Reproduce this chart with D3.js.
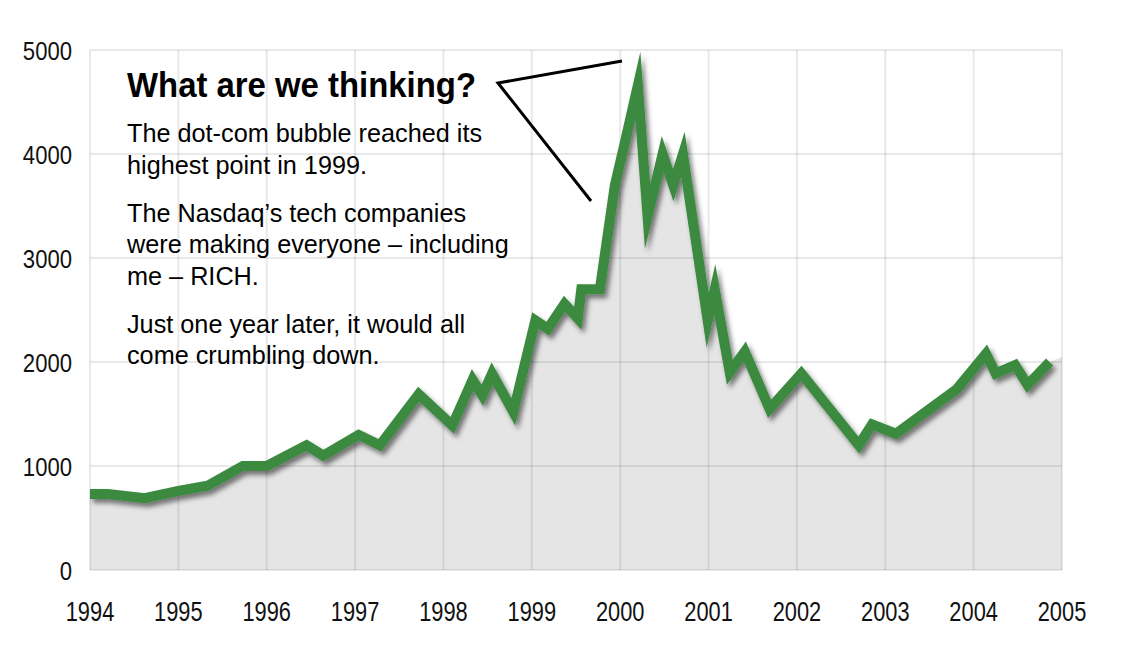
<!DOCTYPE html>
<html><head><meta charset="utf-8">
<script src="https://cdn.jsdelivr.net/npm/d3@7"></script>
<style>
html,body{margin:0;padding:0;background:#fff;}
svg text{font-family:"Liberation Sans",Arial,"Roboto",sans-serif;}
</style></head>
<body>
<svg id="chart" width="1122" height="658"></svg>
<script>
// ---- data ----
const years = [1994.0,1994.2,1994.62,1995.0,1995.33,1995.73,1996.0,1996.45,1996.64,1997.04,1997.28,1997.72,1998.1,1998.33,1998.44,1998.55,1998.79,1999.04,1999.18,1999.37,1999.52,1999.56,1999.77,1999.94,2000.05,2000.2,2000.31,2000.48,2000.6,2000.71,2000.99,2001.07,2001.24,2001.41,2001.69,2002.05,2002.7,2002.85,2003.12,2003.81,2004.14,2004.25,2004.47,2004.61,2004.86];
const values = [730,730,690,760,810,1000,1000,1200,1100,1300,1200,1690,1390,1830,1680,1890,1520,2400,2320,2560,2420,2700,2700,3700,4100,4660,3400,4000,3700,4000,2400,2700,1900,2100,1550,1890,1200,1400,1310,1740,2080,1890,1970,1780,2000];
const areaEndYear = 2005;
const areaEndValue = 2050;
const xTicks = [1994,1995,1996,1997,1998,1999,2000,2001,2002,2003,2004,2005];
const yTicks = [0,1000,2000,3000,4000,5000];
const titleText = "What are we thinking?";
const bodyLines = [
  ["The dot-com bubble reached its","highest point in 1999."],
  ["The Nasdaq\u2019s tech companies","were making everyone \u2013 including","me \u2013 RICH."],
  ["Just one year later, it would all","come crumbling down."]
];

// ---- layout ----
const L=90,R=1062,T=50,B=570;
const svg=d3.select("#chart");
const x=d3.scaleLinear().domain([1994,2005]).range([L,R]);
const y=d3.scaleLinear().domain([0,5000]).range([B,T]);

function ctext(parent, px, py, str, size, sx, opts={}){
  const g=parent.append("g").attr("transform",`translate(${px},${py}) scale(${sx},1)`);
  return g.append("text").attr("x",0).attr("y",0).attr("font-size",size)
    .attr("font-weight",opts.weight||"normal").attr("text-anchor",opts.anchor||"start")
    .attr("fill",opts.fill||"#000").text(str);
}

const defs=svg.append("defs");
const f=defs.append("filter").attr("id","shadow").attr("x","-10%").attr("y","-10%").attr("width","120%").attr("height","130%");
f.append("feDropShadow").attr("dx",3).attr("dy",4).attr("stdDeviation",2.5).attr("flood-color","#000").attr("flood-opacity",0.5);

const pts=years.map((d,i)=>({x:d,v:values[i]}));
const areaPts=pts.concat([{x:areaEndYear,v:areaEndValue}]);

// area fill
svg.append("path").datum(areaPts)
  .attr("d",d3.area().x(d=>x(d.x)).y0(y(0)).y1(d=>y(d.v)))
  .attr("fill","#e5e5e5");

// grid
const g=svg.append("g");
g.selectAll("line.v").data(xTicks).join("line")
  .attr("x1",d=>x(d)).attr("x2",d=>x(d)).attr("y1",T).attr("y2",B)
  .attr("stroke","rgba(0,0,0,0.085)").attr("stroke-width",2);
g.selectAll("line.h").data(yTicks).join("line")
  .attr("x1",L).attr("x2",R).attr("y1",d=>y(d)).attr("y2",d=>y(d))
  .attr("stroke","rgba(0,0,0,0.085)").attr("stroke-width",2);

// axis labels
const fmt=d3.format("d");
const ya=svg.append("g");
yTicks.forEach(v=>ctext(ya,72,y(v)+10,fmt(v),26,0.85,{anchor:"end",fill:"#111"}));
const xa=svg.append("g");
xTicks.forEach(v=>ctext(xa,x(v),621,fmt(v),28,0.78,{anchor:"middle",fill:"#111"}));

// line
svg.append("path").datum(pts)
  .attr("d",d3.line().x(d=>x(d.x)).y(d=>y(d.v)))
  .attr("fill","none").attr("stroke","#3a8a3f").attr("stroke-width",10)
  .attr("stroke-linejoin","miter").attr("stroke-miterlimit",10)
  .attr("filter","url(#shadow)");

// annotation
const tx=127;
ctext(svg,tx,97,titleText,35,0.94,{weight:"bold"});
const lh=31.5; let yy=142;
bodyLines.forEach(grp=>{
  grp.forEach(ln=>{ ctext(svg,tx,yy,ln,26.5,0.953); yy+=lh; });
  yy+=16.5;
});
// callout lines
svg.append("polyline").attr("points","622,61 498,83 591,201").attr("fill","none").attr("stroke","#000").attr("stroke-width",3);
</script>
</body></html>
